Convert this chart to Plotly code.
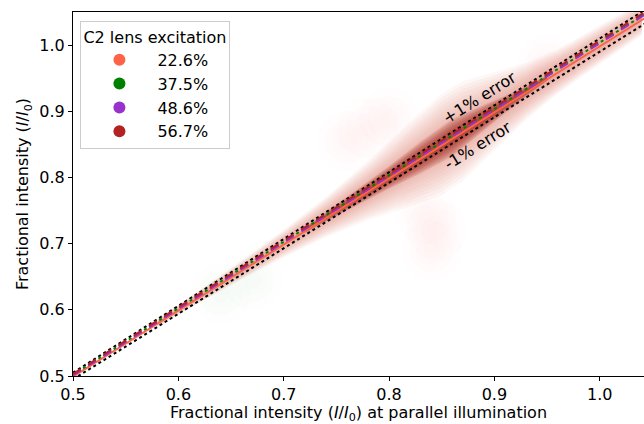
import plotly.graph_objects as go

# ---------------- data ----------------
series_names = ["22.6%", "37.5%", "48.6%", "56.7%"]
series_colors = ["#FF6347", "#008000", "#9932CC", "#B22222"]
series_dash = ["solid", "dashdot", "dash", "dash"]
fit_x = [0.5, 1.05]
fit_y_226 = [0.499, 1.048]
fit_y_375 = [0.502, 1.054]
fit_y_486 = [0.501, 1.053]
fit_y_567 = [0.503, 1.057]
fit_ys = [fit_y_226, fit_y_375, fit_y_486, fit_y_567]

err_x = [0.5, 1.05]
err_plus_y = [0.505, 1.0605]
err_minus_y = [0.495, 1.0395]

# density cloud profile along the diagonal (centre and half-width in y)
cloud_x = [0.58, 0.62, 0.66, 0.70, 0.74, 0.78, 0.82, 0.85, 0.87, 0.90, 0.93, 0.96, 1.00, 1.04]
cloud_hw = [0.004, 0.006, 0.009, 0.013, 0.019, 0.028, 0.040, 0.048, 0.047, 0.037, 0.027, 0.021, 0.018, 0.016]
core_x = [0.72, 0.76, 0.80, 0.83, 0.86, 0.89, 0.92, 0.95]
core_hw = [0.003, 0.007, 0.012, 0.017, 0.020, 0.014, 0.007, 0.003]

# faint off-diagonal patches (x, y)
patch_x = [0.78, 0.80, 0.76, 0.835, 0.845, 0.84, 0.95, 0.64, 0.67]
patch_y = [0.875, 0.89, 0.855, 0.745, 0.72, 0.69, 0.97, 0.625, 0.645]
patch_col = ["#E77", "#E77", "#E77", "#E77", "#E77", "#E77", "#E77", "#6a6", "#6a6"]

x_ticks = [0.5, 0.6, 0.7, 0.8, 0.9, 1.0]
y_ticks = [0.5, 0.6, 0.7, 0.8, 0.9, 1.0]

fig = go.Figure()

def band(xs, hws, scale):
    up = [x + h * scale for x, h in zip(xs, hws)]
    lo = [x - h * scale for x, h in zip(xs, hws)]
    return xs + xs[::-1], up + lo[::-1]

# faint patches (soft: several nested sizes)
for sz in [60, 44, 30, 18]:
    fig.add_trace(go.Scatter(x=patch_x, y=patch_y, mode="markers", showlegend=False,
                             hoverinfo="skip",
                             marker=dict(size=sz, color=patch_col, opacity=0.014, line_width=0)))

# halo layers
for i in range(12):
    s = 1.6 - i * 0.12
    bx, by = band(cloud_x, cloud_hw, s)
    fig.add_trace(go.Scatter(x=bx, y=by, fill="toself", mode="lines", line=dict(width=0),
                             fillcolor="rgba(205,60,50,0.045)", showlegend=False, hoverinfo="skip"))
# core layers (deep red-brown)
for i in range(7):
    s = 1.4 - i * 0.18
    bx, by = band(core_x, core_hw, s)
    fig.add_trace(go.Scatter(x=bx, y=by, fill="toself", mode="lines", line=dict(width=0),
                             fillcolor="rgba(160,35,25,0.17)", showlegend=False, hoverinfo="skip"))

# error lines
for ey in [err_plus_y, err_minus_y]:
    fig.add_trace(go.Scatter(x=err_x, y=ey, mode="lines", showlegend=False, hoverinfo="skip",
                             line=dict(color="black", width=2, dash="dot")))

# fit lines
for name, col, dsh, fy in zip(series_names, series_colors, series_dash, fit_ys):
    fig.add_trace(go.Scatter(x=fit_x, y=fy, mode="lines", showlegend=False,
                             line=dict(color=col, width=2, dash=dsh)))

# legend entries
for name, col in zip(series_names, series_colors):
    fig.add_trace(go.Scatter(x=[None], y=[None], mode="markers", name=name,
                             marker=dict(size=12, color=col)))

fig.add_annotation(x=0.886, y=0.921, text="+1% error", showarrow=False, textangle=-32,
                   font=dict(size=16, color="black"))
fig.add_annotation(x=0.884, y=0.849, text="-1% error", showarrow=False, textangle=-32,
                   font=dict(size=16, color="black"))

fig.update_layout(
    width=644, height=424,
    margin=dict(l=73, r=0, t=12, b=48),
    paper_bgcolor="white", plot_bgcolor="white",
    font=dict(family="DejaVu Sans", size=16, color="black"),
    legend=dict(x=0.013, y=0.975, xanchor="left", yanchor="top",
                title=dict(text="C2 lens excitation", side="top", font=dict(size=16)),
                bgcolor="rgba(255,255,255,0.85)", bordercolor="#ccc", borderwidth=1,
                font=dict(size=16), itemwidth=66, tracegroupgap=0),
    xaxis=dict(range=[0.5, 1.042], tickvals=x_ticks, ticktext=[f"{v:.1f}" for v in x_ticks],
               showgrid=False, zeroline=False, showline=True, linecolor="black", linewidth=1.2,
               mirror=True, ticks="outside", ticklen=4, tickcolor="black",
               tickfont=dict(size=16),
               title=dict(text="Fractional intensity (<i>I</i>/<i>I</i><sub>0</sub>) at parallel illumination",
                          font=dict(size=16), standoff=4)),
    yaxis=dict(range=[0.5, 1.05], tickvals=y_ticks, ticktext=[f"{v:.1f}" for v in y_ticks],
               showgrid=False, zeroline=False, showline=True, linecolor="black", linewidth=1.2,
               mirror=False, ticks="outside", ticklen=4, tickcolor="black",
               tickfont=dict(size=16),
               title=dict(text="Fractional intensity (<i>I</i>/<i>I</i><sub>0</sub>)",
                          font=dict(size=16), standoff=6)),
)

fig.write_html("out.html")
